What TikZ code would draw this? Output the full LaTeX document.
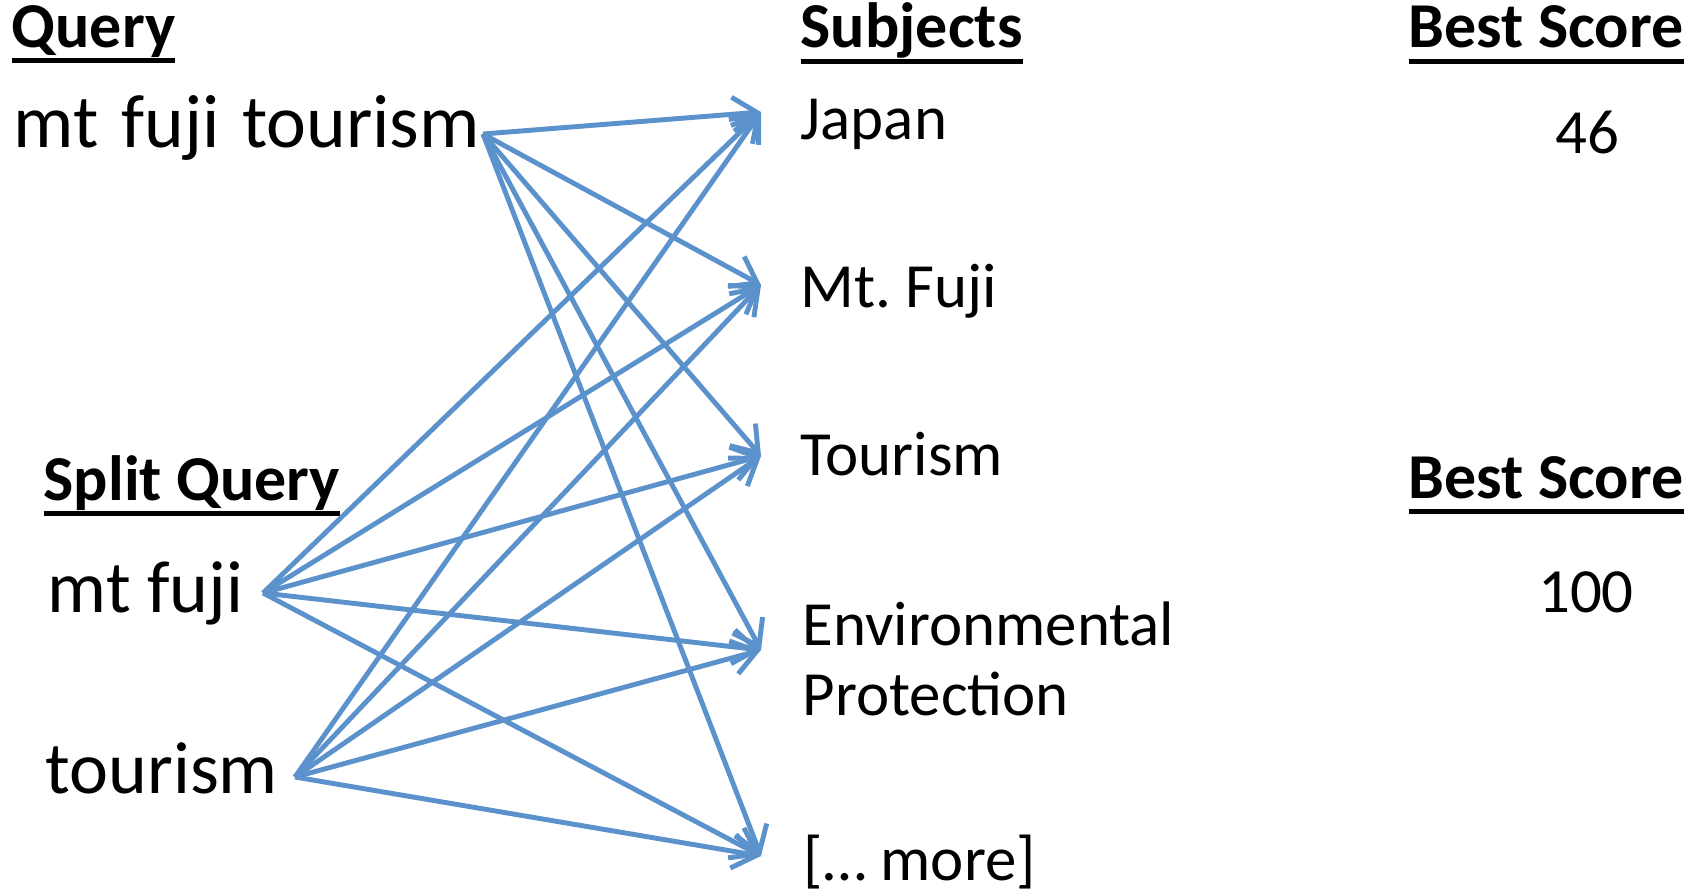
\documentclass[tikz,border=0pt]{standalone}
\usepackage{fontspec}
\setmainfont{Carlito}
\usetikzlibrary{arrows.meta}
\definecolor{linkblue}{RGB}{92,146,204}
\newcommand{\headtext}[1]{\setbox0=\hbox{\bfseries #1}\dp0=0pt\vtop{\copy0\kern0.11cm\hrule height 0.05cm width \wd0}}
\tikzset{
  head/.style={anchor=base west,inner sep=0pt,font=\fontsize{18.2}{22}\selectfont},
  query/.style={anchor=base west,inner sep=0pt,font=\fontsize{21}{25}\selectfont\frenchspacing},
  subject/.style={anchor=base west,inner sep=0pt,align=left,font=\fontsize{17.9}{19.9}\selectfont\frenchspacing},
  score/.style={anchor=base,inner sep=0pt,font=\fontsize{17.9}{21}\selectfont},
  link/.style={linkblue,line width=1.4pt,-{Straight Barb[length=0.24cm,width=0.34cm,line width=1.4pt]}}
}
\begin{document}
\begin{tikzpicture}
    \useasboundingbox (0,0) rectangle (17.03,-8.92);

    % Titles
    \node[head] (qhead) at (0.11,-0.47) {\headtext{Query}};
    \node[head] (shead) at (8.00,-0.48) {\headtext{Subjects}};
    \node[head] (bhead1) at (14.08,-0.48) {\headtext{Best Score}};
    \node[head] (sphead) at (0.43,-5.00) {\headtext{Split Query}};
    \node[head] (bhead2) at (14.08,-4.98) {\headtext{Best Score}};

    % Queries
    \node[query,font=\fontsize{21.5}{25}\selectfont] (q) at (0.13,-1.47) {\spaceskip=0.3em plus 0.1em mt fuji tourism};
    \node[query] (f) at (0.47,-6.12) {mt fuji};
    \node[query] (t) at (0.45,-7.93) {tourism};

    % Subjects
    \node[subject] (jp) at (8.00,-1.40) {Japan};
    \node[subject] (mf) at (8.00,-3.07) {Mt. Fuji};
    \node[subject] (tr) at (8.00,-4.75) {Tourism};
    \node[subject] (ep) at (8.02,-7.15) {Environmental\\Protection};
    \node[subject] (mr) at (8.03,-8.80) {[… more]};

    % Scores
    \node[score] (s1) at (15.87,-1.53) {46};
    \node[score] (s2) at (15.86,-6.12) {100};

    % Ends of the arrows
    \coordinate (q-out) at (4.83,-1.34);
    \coordinate (f-out) at (2.63,-5.93);
    \coordinate (t-out) at (2.95,-7.77);
    \coordinate (jp-in) at (7.61,-1.12);
    \coordinate (mf-in) at (7.61,-2.85);
    \coordinate (tr-in) at (7.61,-4.56);
    \coordinate (ep-in) at (7.61,-6.50);
    \coordinate (mr-in) at (7.61,-8.56);

    \foreach \s in {q-out,f-out,t-out}
      \foreach \t in {jp-in,mf-in,tr-in,ep-in,mr-in}
        \draw[link] (\s) -- (\t);
\end{tikzpicture}
\end{document}
